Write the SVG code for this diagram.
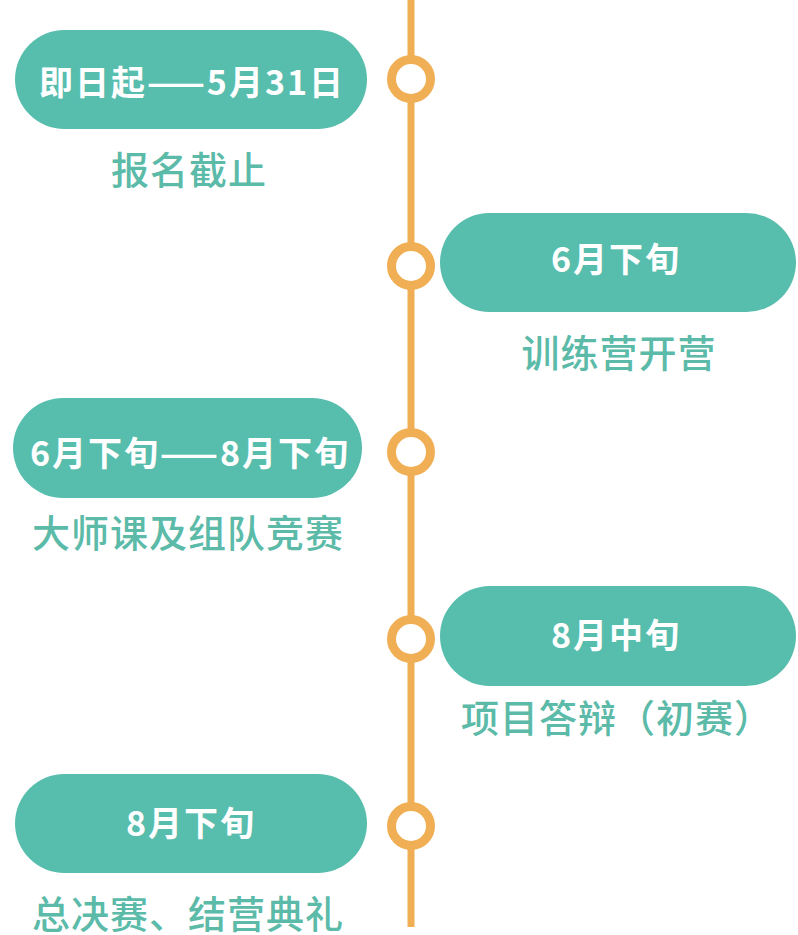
<svg xmlns="http://www.w3.org/2000/svg" width="798" height="935" viewBox="0 0 798 935">
<style>
.pill{fill:#57BDAD}
.dot{fill:#FFFFFF;stroke:#F0AF55;stroke-width:9}
.date{font-family:"Noto Sans CJK SC","Noto Sans",sans-serif;font-weight:700;font-size:34px;fill:#FFFFFF;text-anchor:middle;dominant-baseline:central;letter-spacing:2px}
.desc{font-family:"Noto Sans CJK SC","Noto Sans",sans-serif;font-weight:500;font-size:38px;fill:#5BBAA8;text-anchor:middle;dominant-baseline:central;letter-spacing:1px}
</style>
<rect width="798" height="935" fill="#FFFFFF"/>
<g id="connectors">
<line x1="411" y1="0" x2="411" y2="927" stroke="#F0AF55" stroke-width="7"/>
</g>
<g id="node1">
<rect class="pill" x="15" y="30" width="352" height="99" rx="49.5"/>
<text class="date" x="192" y="80">即日起——5月31日</text>
<text class="desc" x="189" y="167.5">报名截止</text>
<circle class="dot" cx="411" cy="79" r="19.5"/>
</g>
<g id="node2">
<rect class="pill" x="440" y="213" width="356" height="99" rx="49.5"/>
<text class="date" x="616" y="257">6月下旬</text>
<text class="desc" x="619" y="350.5">训练营开营</text>
<circle class="dot" cx="411" cy="266" r="19.5"/>
</g>
<g id="node3">
<rect class="pill" x="13" y="398" width="349" height="100" rx="50"/>
<text class="date" x="190" y="451">6月下旬——8月下旬</text>
<text class="desc" x="188" y="530">大师课及组队竞赛</text>
<circle class="dot" cx="411" cy="452" r="19.5"/>
</g>
<g id="node4">
<rect class="pill" x="440" y="586" width="356" height="100" rx="50"/>
<text class="date" x="616" y="633">8月中旬</text>
<text class="desc" x="617" y="715.5">项目答辩（初赛）</text>
<circle class="dot" cx="411" cy="639" r="19.5"/>
</g>
<g id="node5">
<rect class="pill" x="15" y="774" width="352" height="99" rx="49.5"/>
<text class="date" x="191" y="821.5">8月下旬</text>
<text class="desc" x="188" y="911">总决赛、结营典礼</text>
<circle class="dot" cx="411" cy="826" r="19.5"/>
</g>
</svg>
